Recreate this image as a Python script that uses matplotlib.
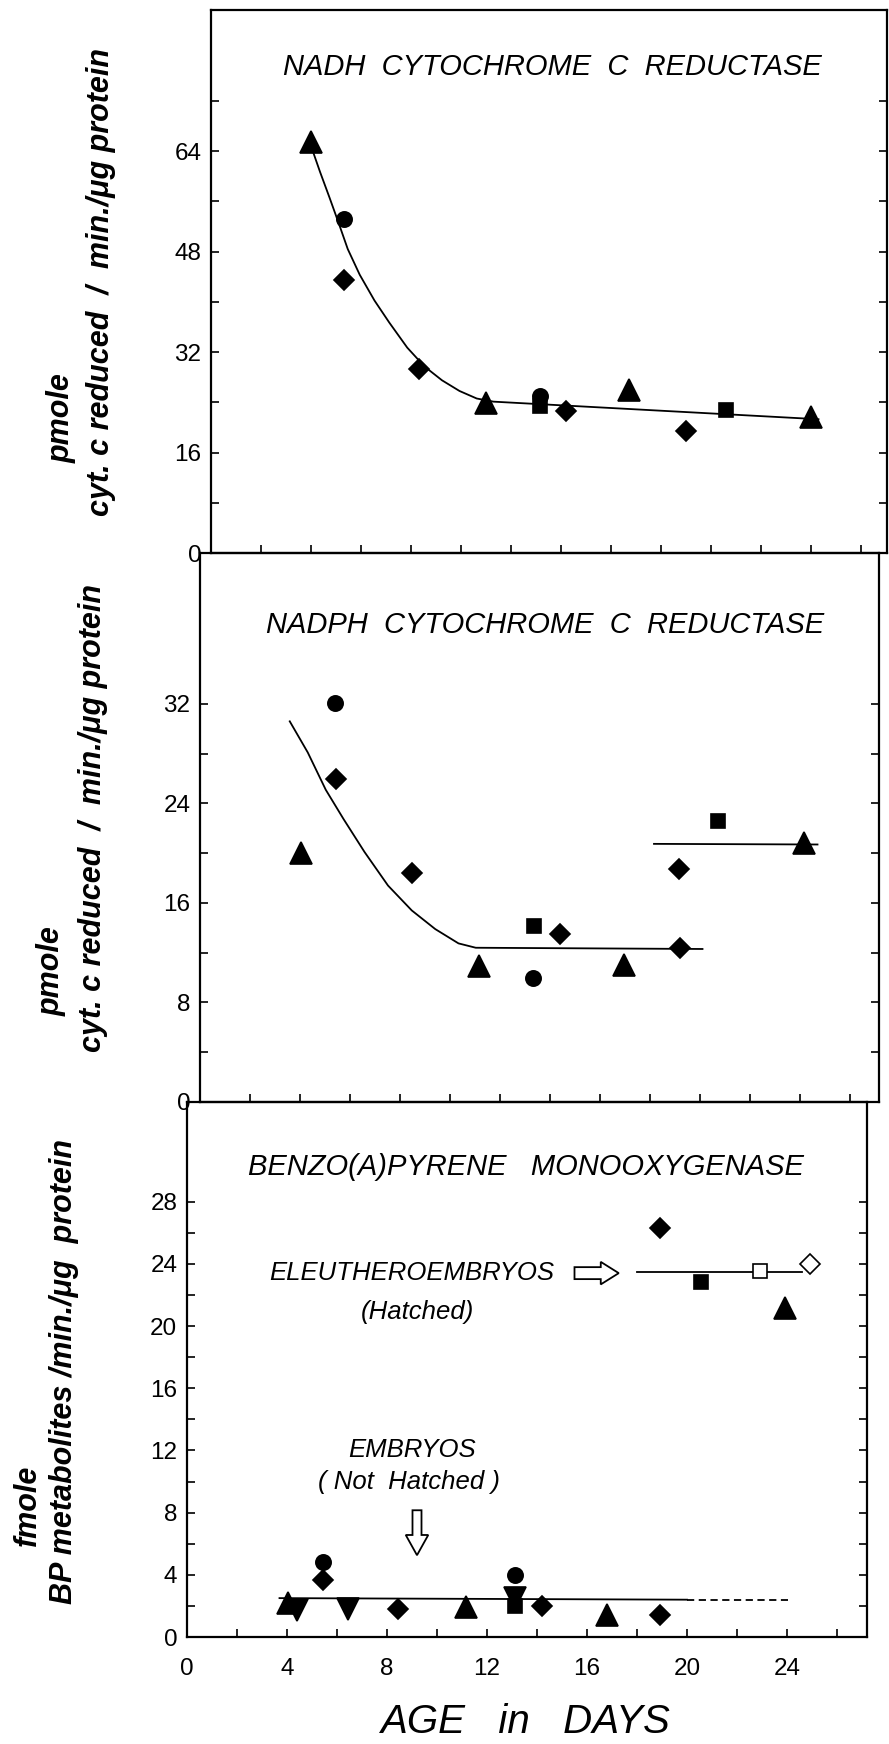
import numpy as np
import matplotlib
matplotlib.use('Agg')
import matplotlib.pyplot as plt

plt.rcParams['font.family'] = ['Liberation Sans', 'DejaVu Sans']

# ---- NADH cytochrome c reductase (pmole cyt. c reduced / min / ug protein)
nadh_tri_x = [4.0, 11.0, 16.7, 24.0]
nadh_tri_y = [65.4, 23.9, 25.9, 21.6]
nadh_circ_x = [5.3, 13.15]
nadh_circ_y = [53.2, 25.0]
nadh_diam_x = [5.3, 8.3, 14.2, 19.0]
nadh_diam_y = [43.4, 29.3, 22.6, 19.5]
nadh_sq_x = [13.15, 20.6]
nadh_sq_y = [23.4, 22.8]
nadh_fit_x = [4.08, 4.36, 4.74, 5.11, 5.47, 5.95, 6.54, 7.13, 7.85, 8.54, 9.24, 9.94, 10.63, 11.3, 24.3]
nadh_fit_y = [63.9, 60.7, 56.6, 52.5, 48.4, 44.3, 40.2, 36.7, 32.7, 29.7, 27.5, 25.8, 24.6, 24.1, 21.3]

# ---- NADPH cytochrome c reductase
nadph_tri_x = [4.05, 11.16, 16.94, 24.17]
nadph_tri_y = [20.0, 10.9, 11.0, 20.8]
nadph_circ_x = [5.4, 13.3]
nadph_circ_y = [32.1, 10.0]
nadph_diam_x = [5.45, 8.48, 14.4, 19.2, 19.16]
nadph_diam_y = [26.0, 18.4, 13.5, 12.4, 18.7]
nadph_sq_x = [13.35, 20.7]
nadph_sq_y = [14.15, 22.6]
nadph_fit_x = [3.59, 4.31, 5.03, 5.74, 6.58, 7.52, 8.47, 9.41, 10.34, 11.03, 20.1]
nadph_fit_y = [30.6, 28.1, 25.1, 22.75, 20.1, 17.4, 15.4, 13.9, 12.75, 12.4, 12.3]
nadph_late_x = [18.16, 24.7]
nadph_late_y = [20.75, 20.7]

# ---- Benzo(a)pyrene monooxygenase (fmole BP metabolites / min / ug protein)
# embryos (not hatched)
bp_tri_x = [4.04, 11.15, 16.8]
bp_tri_y = [2.2, 1.9, 1.4]
bp_dtri_x = [4.4, 6.43, 13.1]
bp_dtri_y = [1.75, 1.8, 2.5]
bp_circ_x = [5.42, 13.1]
bp_circ_y = [4.8, 4.0]
bp_diam_x = [5.44, 8.43, 14.2, 18.9]
bp_diam_y = [3.65, 1.8, 2.0, 1.4]
bp_sq_x = [13.1]
bp_sq_y = [2.0]
bp_emb_line_x = [3.7, 20.0]
bp_emb_line_y = [2.5, 2.4]
bp_emb_dash_x = [20.0, 24.05]
bp_emb_dash_y = [2.4, 2.4]
# eleutheroembryos (hatched)
bp_h_diam_x = [18.9]
bp_h_diam_y = [26.3]
bp_h_sq_x = [20.56]
bp_h_sq_y = [22.8]
bp_h_tri_x = [23.9]
bp_h_tri_y = [21.15]
bp_h_osq_x = [22.9]
bp_h_osq_y = [23.55]
bp_h_odiam_x = [24.9]
bp_h_odiam_y = [24.0]
bp_h_line_x = [18.0, 24.6]
bp_h_line_y = [23.5, 23.5]

W, H = 889, 1744
fig = plt.figure(figsize=(W / 100, H / 100), dpi=100)


def box(left, top, right, bottom):
    return [left / W, 1 - bottom / H, (right - left) / W, (bottom - top) / H]


def px(x, y):
    return x / W, 1 - y / H


def style_axes(ax, width_px, ymax, yticks, ylabels, xlabels=False):
    ax.set_xlim(0, width_px / 25.0)
    ax.set_ylim(0, ymax)
    ax.set_yticks(yticks)
    ax.set_yticklabels([str(v) if v in ylabels else '' for v in yticks])
    xt = np.arange(0, 27, 2)
    ax.set_xticks(xt)
    if xlabels:
        ax.set_xticklabels([str(v) if v % 4 == 0 and v <= 24 else '' for v in xt])
    else:
        ax.set_xticklabels([])
    ax.tick_params(axis='y', direction='in', left=True, right=True, length=6,
                   width=1.2, labelsize=17.5, pad=7)
    ax.tick_params(axis='x', direction='in', bottom=True, top=False, length=6,
                   width=1.2, labelsize=17.5, pad=15)
    for s in ax.spines.values():
        s.set_linewidth(1.6)
    ax.patch.set_alpha(0)


def pts(ax, x, y, marker, ms, fc='black'):
    ax.plot(x, y, linestyle='none', marker=marker, ms=ms, mfc=fc,
            mec='black', mew=1.2, zorder=3)


TRI, CIRC, DIAM, SQ = 16, 11, 10.5, 10

# Panel 1
ax1 = fig.add_axes(box(211, 10, 887, 553))
style_axes(ax1, 676, 543 / 6.28, np.arange(0, 73, 8), [0, 16, 32, 48, 64])
ax1.plot(nadh_fit_x, nadh_fit_y, color='black', lw=1.3)
pts(ax1, nadh_tri_x, nadh_tri_y, '^', TRI)
pts(ax1, nadh_circ_x, nadh_circ_y, 'o', CIRC)
pts(ax1, nadh_sq_x, nadh_sq_y, 's', SQ)
pts(ax1, nadh_diam_x, nadh_diam_y, 'D', DIAM)

# Panel 2
ax2 = fig.add_axes(box(200, 553, 879, 1102))
style_axes(ax2, 679, 549 / 12.44, np.arange(0, 33, 4), [0, 8, 16, 24, 32])
ax2.plot(nadph_fit_x, nadph_fit_y, color='black', lw=1.3)
ax2.plot(nadph_late_x, nadph_late_y, color='black', lw=1.3)
pts(ax2, nadph_tri_x, nadph_tri_y, '^', TRI)
pts(ax2, nadph_circ_x, nadph_circ_y, 'o', CIRC)
pts(ax2, nadph_sq_x, nadph_sq_y, 's', SQ)
pts(ax2, nadph_diam_x, nadph_diam_y, 'D', DIAM)

# Panel 3
ax3 = fig.add_axes(box(187, 1102, 867, 1637))
style_axes(ax3, 680, 535 / 15.55, np.arange(0, 29, 2), [0, 4, 8, 12, 16, 20, 24, 28],
           xlabels=True)
ax3.plot(bp_emb_line_x, bp_emb_line_y, color='black', lw=1.3)
ax3.plot(bp_emb_dash_x, bp_emb_dash_y, color='black', lw=1.3, ls=(0, (4, 2.5)))
ax3.plot(bp_h_line_x, bp_h_line_y, color='black', lw=1.3)
pts(ax3, bp_tri_x, bp_tri_y, '^', TRI)
pts(ax3, bp_dtri_x, bp_dtri_y, 'v', TRI)
pts(ax3, bp_sq_x, bp_sq_y, 's', SQ)
pts(ax3, bp_circ_x, bp_circ_y, 'o', CIRC)
pts(ax3, bp_diam_x, bp_diam_y, 'D', DIAM)
pts(ax3, bp_h_diam_x, bp_h_diam_y, 'D', DIAM)
pts(ax3, bp_h_sq_x, bp_h_sq_y, 's', SQ)
pts(ax3, bp_h_tri_x, bp_h_tri_y, '^', TRI)
pts(ax3, bp_h_osq_x, bp_h_osq_y, 's', SQ, fc='white')
pts(ax3, bp_h_odiam_x, bp_h_odiam_y, 'D', DIAM, fc='white')

# hollow arrows
ax3.arrow(15.5, 23.4, 1.77, 0, width=0.77, head_width=1.45, head_length=0.72,
          length_includes_head=True, fc='white', ec='black', lw=1.3)
ax3.arrow(9.2, 8.15, 0, -2.89, width=0.36, head_width=0.9, head_length=1.3,
          length_includes_head=True, fc='white', ec='black', lw=1.3)

ann = dict(ha='center', va='center', fontsize=18.5, style='italic')
ax3.text(9.0, 23.4, 'ELEUTHEROEMBRYOS', **ann)
ax3.text(9.2, 20.9, '(Hatched)', **ann)
ax3.text(9.0, 12.0, 'EMBRYOS', **ann)
ax3.text(8.9, 10.0, '( Not  Hatched )', **ann)

# panel titles
tt = dict(ha='center', va='center', fontsize=21, style='italic')
fig.text(*px(552, 67), 'NADH  CYTOCHROME  C  REDUCTASE', **tt)
fig.text(*px(545, 625), 'NADPH  CYTOCHROME  C  REDUCTASE', **tt)
fig.text(*px(526, 1167), 'BENZO(A)PYRENE   MONOOXYGENASE', **tt)

# y axis labels
yl = dict(ha='center', va='center', rotation=90, fontsize=22, style='italic',
          fontweight='bold')
fig.text(*px(62, 418), 'pmole', **yl)
fig.text(*px(101, 282), 'cyt. c reduced  /  min./\u03bcg protein', **yl)
fig.text(*px(52, 971), 'pmole', **yl)
fig.text(*px(93, 818), 'cyt. c reduced  /  min./\u03bcg protein', **yl)
fig.text(*px(28, 1505), 'fmole', **yl)
fig.text(*px(64, 1371), 'BP metabolites /min./\u03bcg  protein', **yl)

fig.text(*px(526, 1722), 'AGE   in   DAYS', ha='center', va='center',
         fontsize=29, style='italic')

fig.savefig('out.png', dpi=100, facecolor='white')
